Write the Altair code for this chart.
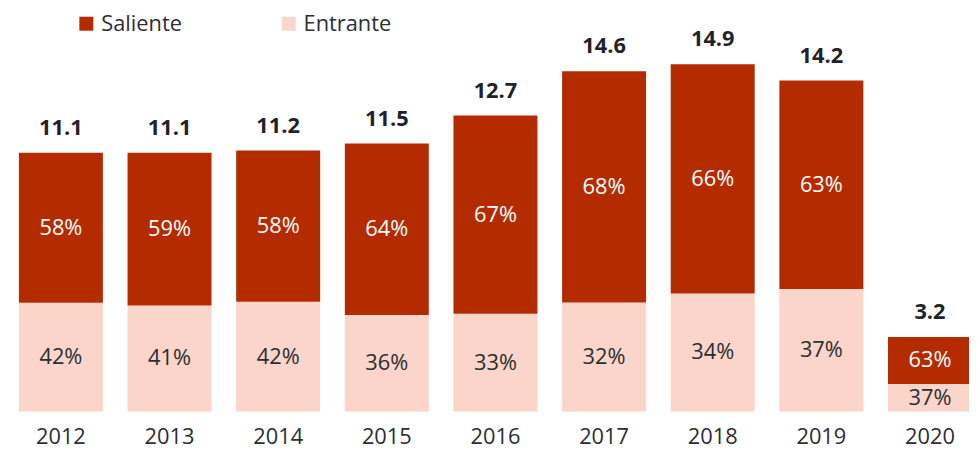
import altair as alt
import pandas as pd

years = ["2012", "2013", "2014", "2015", "2016", "2017", "2018", "2019", "2020"]
totals = [11.1, 11.1, 11.2, 11.5, 12.7, 14.6, 14.9, 14.2, 3.2]
saliente_pct = [58, 59, 58, 64, 67, 68, 66, 63, 63]
entrante_pct = [42, 41, 42, 36, 33, 32, 34, 37, 37]
series = ["Saliente", "Entrante"]
colors = ["#B52B00", "#FBD5C9"]
text_colors = ["#FFFFFF", "#2B2E33"]

rows = []
for y, t, s, e in zip(years, totals, saliente_pct, entrante_pct):
    e_top = t * e / 100.0
    rows.append({"year": y, "series": "Entrante", "lo": 0.0, "hi": e_top,
                 "mid": e_top / 2, "label": f"{e}%", "total": t})
    rows.append({"year": y, "series": "Saliente", "lo": e_top, "hi": t,
                 "mid": (e_top + t) / 2, "label": f"{s}%", "total": t})
df = pd.DataFrame(rows)
tot_df = pd.DataFrame({"year": years, "total": totals,
                       "tlabel": [f"{v:.1f}" for v in totals]})

FONT = "Open Sans"
x = alt.X("year:N", sort=years,
          scale=alt.Scale(range=[11, 972], paddingInner=0.227, paddingOuter=0),
          axis=alt.Axis(title=None, labelAngle=0, labelFontSize=22, labelColor="#2B2E33",
                        labelFont=FONT, domain=False, ticks=False, labelPadding=15))
yscale = alt.Scale(domain=[0, 405 / 23.5], nice=False, zero=True)

bars = alt.Chart(df).mark_bar().encode(
    x=x,
    y=alt.Y("lo:Q", scale=yscale, axis=None),
    y2="hi:Q",
    color=alt.Color("series:N", scale=alt.Scale(domain=series, range=colors),
                    legend=alt.Legend(title=None, orient="none", legendX=68, legendY=3,
                                      direction="horizontal", symbolType="square",
                                      symbolSize=200, symbolStrokeWidth=0,
                                      labelFontSize=22, labelFont=FONT, labelColor="#2B2E33",
                                      columnPadding=96, labelOffset=4)),
)

pct = alt.Chart(df).mark_text(fontSize=22, font=FONT, baseline="middle").encode(
    x=alt.X("year:N", sort=years),
    y=alt.Y("mid:Q", scale=yscale),
    text="label:N",
    color=alt.Color("series:N", scale=alt.Scale(domain=series, range=text_colors), legend=None),
)

tot = alt.Chart(tot_df).mark_text(fontSize=22, font=FONT, fontWeight="bold",
                                  baseline="middle", dy=-25, color="#1F2329").encode(
    x=alt.X("year:N", sort=years),
    y=alt.Y("total:Q", scale=yscale),
    text="tlabel:N",
)

chart = alt.layer(bars, pct, tot).resolve_scale(color="independent").properties(
    width=969, height=405,
    padding={"left": 0, "top": 0, "right": 0, "bottom": 38},
    autosize=alt.AutoSizeParams(type="none"),
).configure_view(stroke=None)

chart.save("out.html", embed_options={"renderer": "svg", "actions": False})
